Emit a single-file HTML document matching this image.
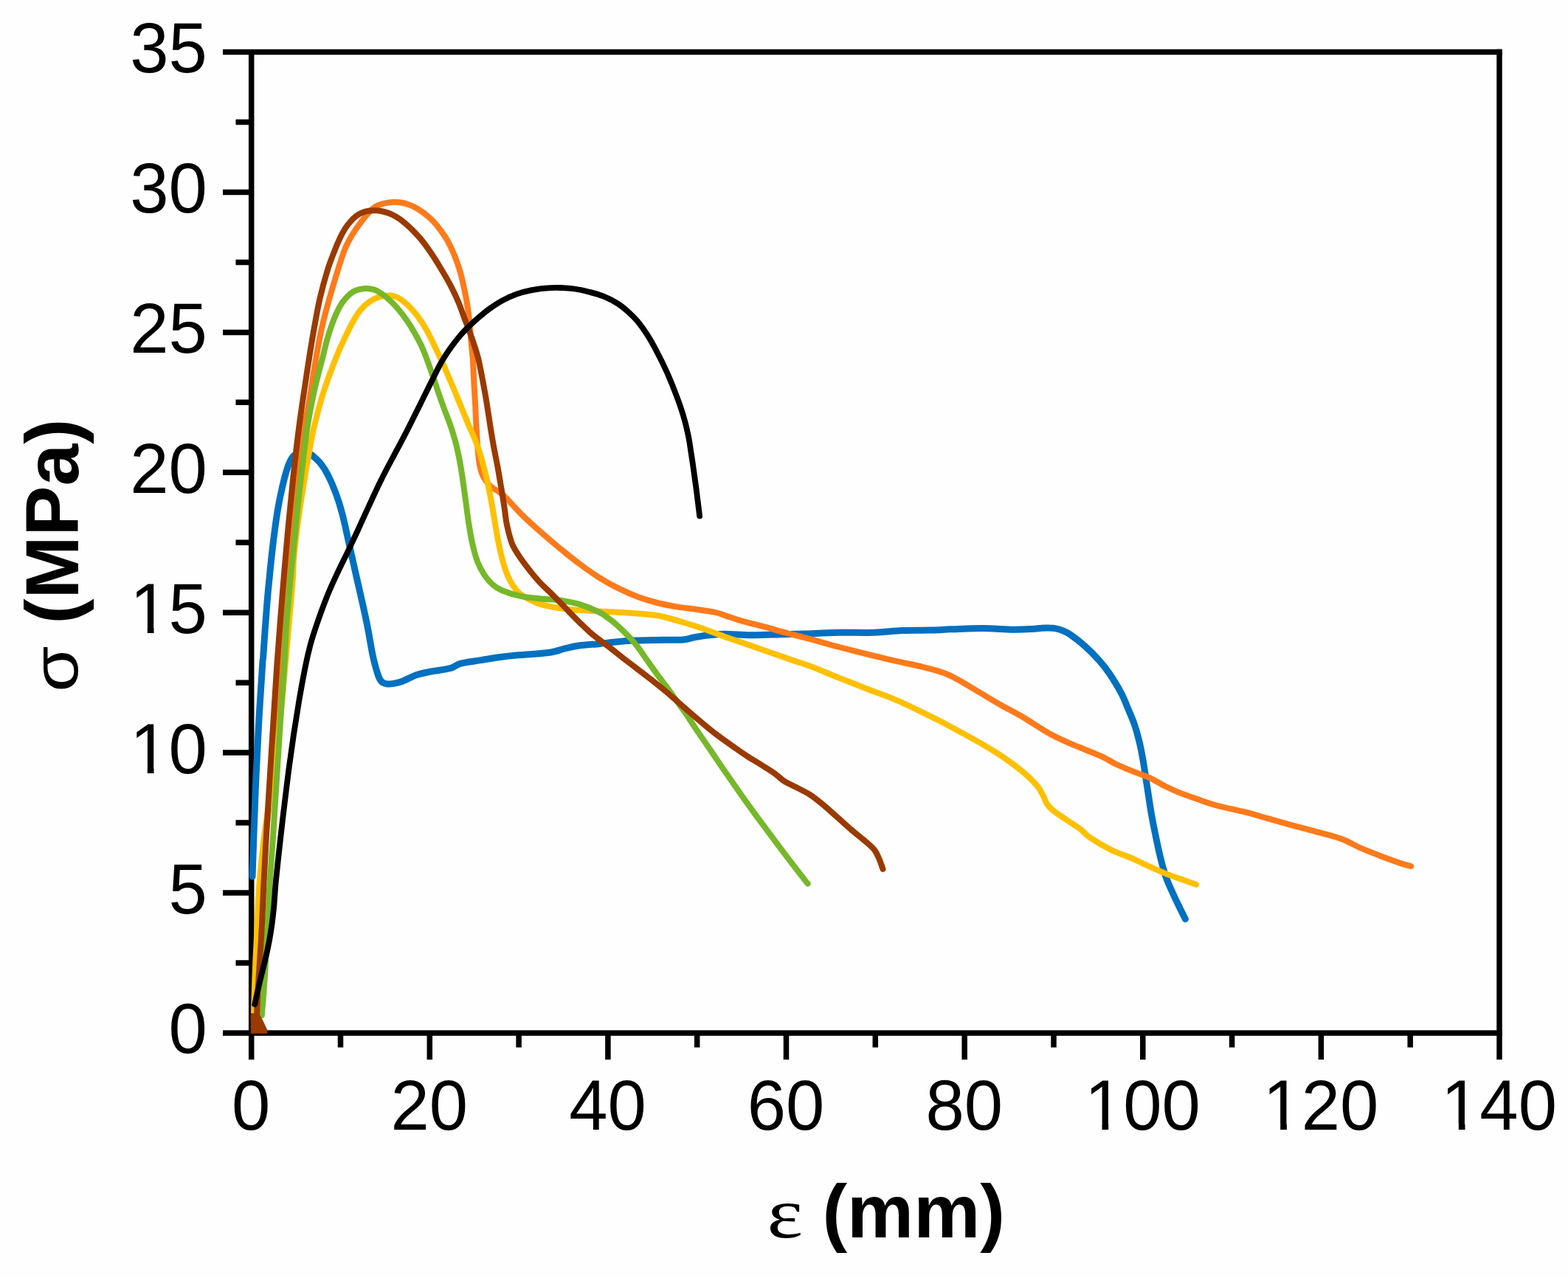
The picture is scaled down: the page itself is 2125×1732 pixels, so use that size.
<!DOCTYPE html>
<html lang="en"><head><meta charset="utf-8"><title>Stress-strain curves</title>
<style>
html,body{margin:0;padding:0;background:#fefefe;}
body{width:2125px;height:1732px;overflow:hidden;}
svg{display:block;}
.tick{font-family:"Liberation Sans",Arial,sans-serif;font-size:94px;fill:#000;}
.lab{font-family:"Liberation Sans",Arial,sans-serif;font-weight:bold;font-size:101px;fill:#000;}
.sym{font-family:"Liberation Serif","DejaVu Serif",serif;font-weight:normal;font-size:100px;fill:#000;}
</style></head>
<body>
<svg xmlns="http://www.w3.org/2000/svg" width="2125" height="1732" viewBox="0 0 2125 1732">
<rect width="2125" height="1732" fill="#fefefe"/>
<g stroke="#000" stroke-width="7.5" fill="none" stroke-linecap="butt">
<path d="M302.0 70.5 H2035.8"/>
<path d="M302.0 1400.0 H2035.8"/>
<path d="M340.7 70.5 V1436.0"/>
<path d="M2032.0 66.8 V1436.0"/>
<path d="M319.5 1305.0H340.7M302.0 1210.1H340.7M319.5 1115.1H340.7M302.0 1020.1H340.7M319.5 925.2H340.7M302.0 830.2H340.7M319.5 735.2H340.7M302.0 640.3H340.7M319.5 545.3H340.7M302.0 450.4H340.7M319.5 355.4H340.7M302.0 260.4H340.7M319.5 165.5H340.7"/>
<path d="M461.5 1400.0V1419.5M582.3 1400.0V1436.0M703.1 1400.0V1419.5M823.9 1400.0V1436.0M944.7 1400.0V1419.5M1065.5 1400.0V1436.0M1186.3 1400.0V1419.5M1307.2 1400.0V1436.0M1428.0 1400.0V1419.5M1548.8 1400.0V1436.0M1669.6 1400.0V1419.5M1790.4 1400.0V1436.0M1911.2 1400.0V1419.5"/>
</g>
<g fill="none" stroke-linecap="round" stroke-linejoin="round">
<path d="M342.0 1188.0C342.4 1178.0 343.3 1150.5 344.1 1127.9C345.0 1105.3 345.9 1077.7 347.0 1052.6C348.2 1027.5 349.4 1002.4 350.8 977.3C352.3 952.2 354.6 916.6 355.6 902.0C356.5 887.5 356.0 898.3 356.7 890.0C357.3 881.7 358.4 864.5 359.3 852.0C360.3 839.5 361.1 827.2 362.1 815.2C363.1 803.2 364.2 791.6 365.4 780.0C366.5 768.5 367.8 756.1 369.0 745.9C370.1 735.7 371.1 727.7 372.3 719.0C373.4 710.4 374.7 701.3 375.9 694.0C377.1 686.7 378.2 680.8 379.3 675.0C380.5 669.2 381.7 664.3 382.8 659.3C384.0 654.3 385.1 649.4 386.3 645.0C387.5 640.7 388.7 636.7 389.8 633.3C391.0 630.0 392.0 627.4 393.2 625.1C394.3 622.7 395.4 620.8 396.7 619.2C398.1 617.6 399.6 616.2 401.2 615.2C402.7 614.3 404.4 613.6 406.1 613.2C407.7 612.8 409.3 612.6 411.0 612.7C412.6 612.7 414.3 613.0 415.9 613.5C417.6 614.0 419.2 614.7 420.9 615.7C422.6 616.7 424.0 617.8 426.0 619.6C428.0 621.3 430.5 623.5 432.8 626.2C435.1 628.9 437.4 631.9 439.8 635.6C442.1 639.4 444.5 643.8 446.8 648.6C449.1 653.4 451.6 659.3 453.6 664.6C455.7 669.8 457.3 674.6 459.1 680.0C460.8 685.5 462.6 692.0 464.1 697.4C465.5 702.8 466.5 707.3 467.7 712.5C468.9 717.7 469.8 722.2 471.2 728.6C472.6 735.0 474.2 741.9 476.2 751.0C478.3 760.1 480.8 771.5 483.4 783.0C486.0 794.5 489.3 808.5 491.8 820.0C494.4 831.5 496.5 841.3 498.6 852.1C500.7 862.8 502.8 876.4 504.4 884.4C505.9 892.5 506.9 895.8 508.1 900.5C509.3 905.1 510.5 909.1 511.6 912.5C512.7 915.9 513.7 918.7 514.9 920.8C516.2 922.9 517.3 924.1 518.9 925.1C520.5 926.2 522.4 926.6 524.5 926.9C526.7 927.1 528.4 927.2 531.8 926.6C535.1 926.0 539.1 925.5 544.7 923.5C550.2 921.5 558.4 916.8 565.0 914.6C571.7 912.3 577.0 911.5 584.6 910.0C592.1 908.6 603.6 907.5 610.3 905.7C616.9 903.9 617.9 901.0 624.5 899.2C631.2 897.4 641.1 896.4 650.4 894.9C659.6 893.4 671.8 891.3 680.0 890.2C688.3 889.0 693.6 888.5 700.0 887.9C706.5 887.4 711.0 887.4 718.8 886.8C726.6 886.1 739.0 885.3 746.9 884.0C754.8 882.7 759.7 880.3 766.0 878.8C772.3 877.3 776.9 876.1 784.8 875.0C792.6 874.0 805.0 873.2 812.9 872.4C820.7 871.6 824.0 870.9 831.8 870.2C839.7 869.5 850.6 868.6 860.0 868.1C869.4 867.7 877.2 867.6 888.2 867.4C899.2 867.2 916.9 867.5 925.7 866.9C934.5 866.3 934.7 864.9 941.0 863.8C947.3 862.7 956.6 861.3 963.5 860.6C970.4 859.8 973.0 859.2 982.4 859.3C991.8 859.3 1007.5 860.6 1020.0 860.7C1032.5 860.8 1044.3 860.1 1057.6 859.7C1070.9 859.4 1086.7 859.1 1100.0 858.7C1113.3 858.2 1123.5 857.4 1137.6 857.2C1151.7 856.9 1170.5 857.8 1184.7 857.3C1198.8 856.9 1209.9 855.0 1222.4 854.5C1235.0 853.9 1249.0 854.4 1260.0 854.1C1271.0 853.9 1276.3 853.3 1288.2 852.8C1300.1 852.4 1317.4 851.5 1331.5 851.5C1345.6 851.6 1361.8 853.1 1372.9 853.2C1384.0 853.4 1391.6 852.8 1398.0 852.4C1404.4 852.1 1407.3 851.4 1411.3 851.2C1415.3 850.9 1418.7 850.8 1422.0 851.0C1425.3 851.1 1428.0 851.3 1431.0 851.9C1434.1 852.5 1437.0 853.4 1440.2 854.7C1443.5 856.0 1445.5 856.5 1450.5 860.0C1455.5 863.5 1463.7 869.7 1470.3 875.6C1476.9 881.5 1484.6 889.3 1490.0 895.4C1495.5 901.5 1498.3 905.2 1503.2 912.4C1508.1 919.7 1515.0 930.7 1519.3 938.9C1523.7 947.1 1526.2 954.4 1529.2 961.6C1532.2 968.7 1534.9 974.6 1537.4 981.7C1539.8 988.7 1541.8 996.0 1543.7 1003.9C1545.7 1011.7 1547.3 1020.5 1548.8 1028.7C1550.3 1037.0 1551.4 1045.2 1552.7 1053.5C1554.0 1061.8 1555.2 1070.0 1556.5 1078.3C1557.8 1086.6 1558.9 1094.9 1560.4 1103.2C1561.8 1111.4 1563.4 1118.9 1565.2 1128.0C1567.1 1137.1 1569.2 1147.9 1571.6 1157.8C1574.0 1167.6 1576.3 1177.8 1579.6 1187.3C1582.9 1196.8 1586.9 1205.1 1591.4 1214.8C1595.8 1224.5 1603.9 1240.4 1606.4 1245.5" stroke="#0070C0" stroke-width="9.0"/>
<path d="M346.8 1392.0C347.2 1380.0 348.2 1343.7 348.9 1320.0C349.7 1296.3 350.6 1270.0 351.3 1250.0C352.0 1230.0 351.0 1225.1 353.1 1200.1C355.2 1175.1 360.3 1133.3 363.7 1100.0C367.2 1066.6 370.9 1033.0 373.8 1000.0C376.6 967.0 379.0 928.7 380.8 902.0C382.6 875.3 383.3 859.4 384.8 839.5C386.3 819.7 388.0 801.8 389.7 783.0C391.4 764.2 393.2 745.1 395.0 726.6C396.8 708.1 398.7 689.4 400.6 672.0C402.4 654.6 404.2 637.3 406.1 622.0C407.9 606.7 409.7 592.0 411.7 580.1C413.7 568.3 415.0 566.9 417.8 550.9C420.7 534.9 425.5 501.8 428.6 484.0C431.6 466.3 433.1 457.8 436.1 444.6C439.0 431.4 442.6 418.2 446.3 405.0C450.0 391.8 454.7 376.3 458.1 365.4C461.4 354.6 464.0 346.5 466.5 339.9C469.0 333.2 470.6 330.4 473.1 325.7C475.6 321.0 478.3 316.4 481.5 311.7C484.6 307.0 489.1 301.3 492.1 297.4C495.1 293.5 497.1 291.0 499.5 288.3C502.0 285.7 504.4 283.2 506.7 281.4C509.1 279.7 511.3 278.8 513.6 277.8C515.9 276.8 517.7 276.3 520.6 275.6C523.6 275.0 527.7 274.1 531.2 273.9C534.7 273.7 538.3 273.9 541.8 274.3C545.3 274.8 548.8 275.5 552.3 276.7C555.8 277.8 559.3 279.4 562.8 281.3C566.3 283.2 569.8 285.4 573.4 288.0C576.9 290.6 581.0 294.1 584.0 296.8C586.9 299.5 588.7 301.4 591.0 304.2C593.4 307.0 595.6 310.0 598.2 313.6C600.7 317.3 603.5 320.8 606.5 326.1C609.4 331.5 612.9 338.8 615.8 345.8C618.6 352.8 621.4 360.6 623.6 368.2C625.8 375.9 627.6 384.6 629.2 391.8C630.8 399.0 631.9 404.9 633.0 411.5C634.1 418.1 634.6 421.4 635.7 431.3C636.7 441.2 638.4 461.3 639.3 470.8C640.2 480.2 640.3 479.3 640.9 488.0C641.4 496.7 642.1 512.4 642.6 522.9C643.2 533.4 643.8 542.4 644.3 551.2C644.7 560.1 644.9 567.2 645.4 576.0C645.9 584.8 646.5 595.4 647.2 604.2C648.0 613.0 648.5 621.8 649.7 628.6C650.9 635.4 652.2 640.3 654.6 645.2C657.0 650.1 660.0 654.2 663.9 658.0C667.8 661.8 674.2 665.0 677.9 667.8C681.7 670.7 681.6 670.4 686.4 675.3C691.2 680.2 699.1 689.5 706.8 697.1C714.5 704.7 724.1 713.4 732.8 721.1C741.5 728.8 750.4 736.3 759.2 743.5C768.0 750.7 776.8 757.9 785.6 764.4C794.4 771.0 803.3 777.3 812.1 782.8C820.8 788.3 829.5 793.0 838.3 797.4C847.0 801.7 855.9 805.7 864.7 809.0C873.5 812.3 882.1 814.8 890.9 817.0C899.7 819.3 908.5 820.9 917.3 822.4C926.0 823.8 934.8 824.6 943.5 825.8C952.1 827.1 962.6 828.5 969.1 829.9C975.6 831.3 977.0 832.3 982.4 834.1C987.8 835.8 995.0 838.6 1001.3 840.4C1007.5 842.3 1013.8 843.8 1020.0 845.4C1026.2 847.0 1032.5 848.5 1038.8 850.2C1045.0 851.9 1051.4 853.9 1057.6 855.7C1063.9 857.4 1069.4 858.7 1076.5 860.5C1083.5 862.3 1089.8 863.9 1100.0 866.6C1110.2 869.4 1125.1 873.7 1137.6 877.0C1150.2 880.3 1162.7 883.5 1175.3 886.6C1187.9 889.7 1200.4 892.9 1213.0 895.7C1225.5 898.6 1239.6 901.1 1250.5 903.8C1261.5 906.5 1270.7 909.0 1278.5 911.8C1286.4 914.6 1289.6 916.5 1297.5 920.8C1305.4 925.0 1316.4 931.8 1325.9 937.4C1335.4 943.0 1344.8 948.8 1354.2 954.2C1363.6 959.5 1374.7 965.3 1382.3 969.6C1389.9 974.0 1392.8 975.9 1399.9 980.3C1407.1 984.7 1416.8 991.3 1425.1 995.8C1433.4 1000.3 1441.5 1003.8 1449.8 1007.4C1458.0 1011.0 1466.7 1014.2 1474.5 1017.5C1482.3 1020.7 1490.3 1023.8 1496.6 1026.8C1502.9 1029.8 1505.4 1032.3 1512.1 1035.5C1518.8 1038.7 1528.9 1042.8 1536.7 1045.9C1544.4 1049.0 1551.5 1051.0 1558.5 1054.3C1565.6 1057.5 1572.3 1062.1 1579.0 1065.5C1585.7 1068.8 1591.4 1071.4 1598.8 1074.4C1606.2 1077.3 1614.9 1080.4 1623.5 1083.3C1632.1 1086.3 1639.6 1089.1 1650.3 1092.0C1661.0 1094.9 1676.4 1097.8 1687.7 1100.7C1699.0 1103.5 1707.9 1106.4 1717.9 1109.2C1728.0 1112.0 1738.0 1114.8 1748.0 1117.6C1758.0 1120.3 1768.1 1123.0 1778.1 1125.7C1788.2 1128.4 1800.7 1131.4 1808.2 1133.7C1815.7 1135.9 1816.8 1136.3 1823.1 1139.0C1829.4 1141.8 1837.3 1146.4 1846.1 1150.2C1854.9 1154.0 1867.3 1158.7 1876.0 1162.0C1884.8 1165.3 1892.6 1168.1 1898.7 1170.1C1904.7 1172.1 1909.9 1173.3 1912.2 1174.0" stroke="#FF7A1A" stroke-width="8.0"/>
<path d="M343.8 1380.0C344.0 1373.3 344.5 1353.0 344.9 1340.0C345.3 1327.0 345.8 1315.3 346.4 1302.0C347.0 1288.7 347.6 1276.5 348.4 1260.0C349.2 1243.5 349.5 1224.7 351.1 1203.0C352.8 1181.4 356.0 1150.6 358.5 1130.1C361.0 1109.6 363.5 1096.7 366.0 1080.0C368.5 1063.3 371.4 1046.6 373.6 1030.0C375.9 1013.3 377.3 1000.0 379.4 980.0C381.4 960.0 383.8 933.4 385.9 910.0C388.0 886.6 390.3 860.7 392.1 839.5C394.0 818.3 396.0 796.6 397.0 783.0C398.0 769.4 397.0 770.7 398.1 758.0C399.2 745.4 401.2 726.1 403.8 707.0C406.4 688.0 411.0 659.7 413.6 643.5C416.2 627.4 417.5 620.6 419.5 610.0C421.4 599.4 422.2 593.0 425.3 580.1C428.4 567.2 433.0 548.6 438.0 532.6C443.1 516.6 450.8 496.6 455.7 484.1C460.5 471.7 463.2 466.5 467.4 457.8C471.5 449.0 477.0 438.1 480.8 431.5C484.6 425.0 486.5 422.4 490.0 418.5C493.5 414.6 497.7 410.9 501.9 408.2C506.0 405.4 510.6 403.4 514.8 402.1C518.9 400.8 523.0 400.3 526.5 400.3C530.0 400.2 532.5 400.9 535.6 402.0C538.6 403.0 541.0 404.0 544.7 406.7C548.4 409.5 553.3 413.7 557.7 418.5C562.1 423.3 567.0 429.7 570.9 435.5C574.9 441.4 578.4 447.9 581.6 453.8C584.7 459.7 587.4 465.7 589.8 470.8C592.3 475.8 594.1 479.4 596.2 484.0C598.4 488.7 600.1 492.4 602.8 498.5C605.5 504.7 609.2 513.5 612.4 521.0C615.5 528.5 618.7 536.1 621.8 543.6C624.9 551.1 628.9 560.8 631.1 566.2C633.3 571.6 632.6 570.2 635.0 575.9C637.5 581.7 642.6 592.5 645.7 600.7C648.8 608.9 651.2 616.5 653.6 625.0C656.0 633.4 658.2 642.3 660.2 651.3C662.2 660.4 664.1 670.1 665.9 679.5C667.6 688.9 669.1 698.4 670.7 707.8C672.3 717.2 673.7 726.6 675.7 735.9C677.6 745.3 680.0 756.0 682.4 764.1C684.8 772.2 687.2 778.7 690.1 784.6C692.9 790.5 696.2 795.6 699.5 799.5C702.7 803.4 704.9 805.2 709.7 808.2C714.5 811.2 722.2 815.1 728.4 817.5C734.7 819.8 739.4 821.0 747.2 822.4C755.0 823.9 764.4 825.2 775.3 826.2C786.3 827.2 800.4 827.8 812.9 828.5C825.4 829.2 838.1 829.6 850.6 830.5C863.1 831.4 878.7 832.6 888.1 833.8C897.5 835.1 900.8 836.4 907.1 838.0C913.4 839.6 919.6 841.6 925.9 843.5C932.2 845.4 938.4 847.3 944.7 849.3C950.9 851.4 957.2 853.6 963.5 855.9C969.8 858.2 976.2 860.9 982.5 863.1C988.8 865.3 994.9 867.2 1001.2 869.4C1007.4 871.5 1013.7 873.7 1020.0 875.9C1026.3 878.1 1032.5 880.3 1038.8 882.5C1045.1 884.7 1051.3 886.9 1057.6 889.1C1063.9 891.3 1069.5 893.2 1076.5 895.6C1083.6 898.0 1089.7 899.6 1099.8 903.5C1110.0 907.4 1125.1 913.8 1137.6 918.9C1150.2 923.9 1162.9 928.9 1175.4 933.8C1187.9 938.6 1200.1 942.5 1212.6 947.9C1225.2 953.2 1238.0 959.5 1250.6 965.7C1263.1 971.8 1275.6 978.1 1288.1 984.7C1300.6 991.3 1314.8 999.1 1325.8 1005.4C1336.8 1011.7 1346.1 1017.3 1353.9 1022.3C1361.8 1027.4 1366.5 1030.8 1372.8 1035.5C1379.0 1040.2 1386.0 1045.6 1391.5 1050.7C1397.1 1055.7 1402.5 1061.1 1406.2 1065.8C1410.0 1070.5 1411.9 1074.8 1414.0 1078.8C1416.1 1082.7 1416.5 1086.1 1418.8 1089.4C1421.1 1092.8 1423.5 1095.4 1427.8 1098.9C1432.1 1102.4 1438.5 1106.4 1444.6 1110.5C1450.6 1114.6 1459.0 1119.8 1464.1 1123.6C1469.2 1127.5 1470.4 1130.1 1475.0 1133.6C1479.7 1137.0 1485.7 1140.6 1491.9 1144.2C1498.1 1147.7 1505.5 1151.7 1512.1 1154.7C1518.6 1157.7 1524.4 1159.0 1531.4 1162.0C1538.4 1165.0 1546.1 1169.0 1554.1 1172.6C1562.0 1176.2 1570.7 1180.2 1578.9 1183.6C1587.2 1186.9 1596.6 1190.1 1603.6 1192.6C1610.6 1195.2 1618.1 1197.8 1621.0 1198.8" stroke="#FFC000" stroke-width="8.0"/>
<path d="M354.8 1376.0C355.2 1371.7 356.2 1359.3 357.0 1350.0C357.7 1340.7 358.5 1329.7 359.1 1320.0C359.7 1310.3 360.0 1301.9 360.5 1292.0C361.0 1282.1 361.4 1276.1 362.2 1260.8C363.0 1245.5 364.1 1222.2 365.4 1200.0C366.8 1177.9 368.8 1152.5 370.4 1127.9C372.0 1103.3 373.6 1077.7 375.2 1052.6C376.8 1027.5 378.4 1002.4 380.0 977.3C381.7 952.2 383.7 924.9 385.2 902.0C386.6 879.0 387.3 859.4 388.7 839.5C390.2 819.7 392.1 801.8 393.9 783.0C395.7 764.2 397.6 745.4 399.5 726.6C401.4 707.8 403.5 687.4 405.3 670.1C407.2 652.8 408.9 638.7 410.8 623.0C412.8 607.3 414.6 591.2 417.0 576.1C419.4 561.0 422.4 546.0 425.3 532.5C428.2 518.9 432.5 502.8 434.5 494.7C436.5 486.6 435.9 490.1 437.4 484.0C439.0 477.8 441.4 466.6 444.0 457.8C446.6 449.1 449.9 439.1 453.0 431.4C456.2 423.8 459.1 417.4 462.6 412.0C466.1 406.5 470.9 401.8 474.1 398.7C477.3 395.7 478.5 395.0 481.9 393.7C485.4 392.4 491.0 391.3 494.9 391.0C498.8 390.7 502.5 391.5 505.3 392.1C508.1 392.7 508.6 392.7 511.8 394.7C515.1 396.7 520.5 400.2 524.9 404.0C529.3 407.7 533.7 412.0 538.1 417.1C542.5 422.1 547.3 428.4 551.2 434.1C555.2 439.8 558.7 445.5 561.9 451.2C565.2 456.9 568.1 462.2 571.0 468.3C573.8 474.5 576.2 480.5 579.0 488.1C581.8 495.6 585.1 505.5 587.9 513.5C590.6 521.5 593.0 528.8 595.5 536.0C598.0 543.2 600.5 550.1 603.0 556.8C605.5 563.5 607.8 568.8 610.2 576.1C612.7 583.4 615.5 592.1 617.7 600.6C619.9 609.0 621.8 618.4 623.4 626.8C625.0 635.3 626.0 642.5 627.3 651.3C628.6 660.1 629.9 670.1 631.2 679.5C632.5 688.9 633.6 698.4 635.0 707.8C636.5 717.2 638.0 727.2 640.0 735.9C642.0 744.7 644.1 753.1 646.8 760.3C649.5 767.4 652.8 773.6 656.2 778.9C659.6 784.2 663.3 788.4 667.4 792.0C671.4 795.5 673.8 797.6 680.4 800.3C686.9 803.0 697.8 806.4 706.6 808.2C715.3 810.1 724.0 810.5 732.7 811.4C741.5 812.3 750.3 812.2 759.0 813.5C767.8 814.7 776.4 816.3 785.2 818.9C793.9 821.6 804.9 826.2 811.5 829.4C818.1 832.6 820.4 834.9 824.8 838.1C829.2 841.3 833.5 844.8 837.9 848.7C842.3 852.7 846.8 857.2 851.2 861.8C855.6 866.4 859.7 870.8 864.1 876.5C868.5 882.2 873.2 889.6 877.7 895.9C882.2 902.2 886.5 908.4 890.9 914.3C895.3 920.3 899.5 925.6 903.9 931.6C908.3 937.5 912.8 943.8 917.2 950.0C921.6 956.1 925.9 962.1 930.3 968.5C934.7 974.9 939.2 982.0 943.6 988.4C947.9 994.9 949.8 997.5 956.3 1007.0C962.9 1016.6 973.9 1033.0 982.8 1045.9C991.6 1058.7 1000.5 1071.7 1009.3 1084.0C1018.0 1096.3 1026.6 1107.8 1035.4 1119.7C1044.2 1131.6 1053.1 1143.6 1061.9 1155.2C1070.7 1166.9 1082.7 1182.4 1088.2 1189.4C1093.6 1196.5 1093.6 1196.1 1094.7 1197.4" stroke="#76B82A" stroke-width="8.0"/>
<path d="M348.0 1376.0C348.3 1370.7 348.8 1356.3 349.5 1344.0C350.2 1331.7 351.2 1316.3 352.0 1302.4C352.9 1288.5 353.7 1277.9 354.6 1260.8C355.5 1243.7 356.2 1222.2 357.3 1200.0C358.4 1177.9 359.8 1152.5 361.2 1127.9C362.6 1103.3 364.2 1077.7 365.8 1052.6C367.4 1027.5 368.9 1002.4 370.5 977.3C372.1 952.2 373.8 925.0 375.3 902.0C376.9 879.0 378.4 859.3 380.0 839.5C381.5 819.7 383.0 801.8 384.6 783.0C386.2 764.2 387.9 743.5 389.5 726.6C391.0 709.7 392.4 697.1 393.9 681.4C395.5 665.7 396.9 650.1 398.9 632.5C400.8 615.0 403.0 595.9 405.6 576.0C408.2 556.2 412.4 528.8 414.7 513.5C417.0 498.2 417.3 495.5 419.2 484.0C421.0 472.5 423.4 457.7 425.8 444.5C428.2 431.3 430.4 418.2 433.4 405.0C436.4 391.9 440.7 376.4 444.0 365.6C447.4 354.7 450.7 346.9 453.5 339.7C456.3 332.5 458.5 327.3 460.9 322.2C463.3 317.2 465.5 313.2 467.8 309.6C470.2 305.9 472.5 303.0 474.9 300.3C477.2 297.6 479.5 295.3 482.0 293.3C484.5 291.4 486.8 289.8 489.7 288.6C492.6 287.3 496.1 286.3 499.5 285.8C502.8 285.2 506.5 285.1 510.0 285.3C513.5 285.5 517.0 286.2 520.5 287.0C524.1 287.9 527.5 289.0 531.0 290.6C534.6 292.3 538.6 294.7 541.6 296.8C544.7 298.9 546.7 300.7 549.5 303.0C552.2 305.4 554.4 307.2 558.0 310.8C561.6 314.5 566.6 319.5 571.0 324.9C575.4 330.3 579.9 336.6 584.3 343.1C588.8 349.7 593.2 356.9 597.6 364.2C602.0 371.4 606.6 379.2 610.5 386.7C614.4 394.1 617.9 401.6 621.1 409.0C624.2 416.5 626.8 424.2 629.4 431.3C632.1 438.3 634.7 444.6 637.0 451.2C639.4 457.8 641.8 464.7 643.7 470.8C645.7 477.0 647.0 481.0 648.7 488.1C650.3 495.2 652.0 504.2 653.8 513.5C655.5 522.8 657.5 533.2 659.2 543.6C660.9 554.0 662.6 565.9 664.2 576.0C665.8 586.1 667.2 594.8 668.9 604.2C670.6 613.6 672.6 623.1 674.4 632.5C676.1 641.9 677.6 651.3 679.2 660.7C680.8 670.1 682.4 680.4 683.7 688.9C685.0 697.5 685.3 703.8 687.1 711.9C688.9 720.1 691.1 730.2 694.4 737.9C697.6 745.5 702.4 751.8 706.6 758.0C710.8 764.2 715.2 769.7 719.6 775.2C724.0 780.7 728.6 786.2 733.0 790.8C737.4 795.5 741.4 798.8 745.8 803.1C750.1 807.4 754.7 812.0 759.1 816.5C763.5 821.0 767.8 825.6 772.2 830.1C776.6 834.6 781.0 839.1 785.4 843.5C789.9 847.8 794.4 852.3 798.8 856.2C803.2 860.1 807.5 863.4 811.9 866.7C816.2 870.1 818.2 871.3 824.8 876.3C831.4 881.4 842.6 890.4 851.4 897.2C860.2 904.0 868.8 910.3 877.5 917.1C886.2 924.0 895.0 930.9 903.8 938.3C912.6 945.8 921.1 953.6 930.5 961.7C939.9 969.8 952.6 980.6 960.1 986.8C967.6 993.0 969.7 994.5 975.4 998.8C981.1 1003.0 987.8 1007.7 994.1 1012.1C1000.4 1016.5 1006.8 1021.0 1013.0 1025.1C1019.3 1029.2 1025.6 1032.7 1031.8 1036.6C1038.0 1040.5 1045.1 1044.8 1050.2 1048.4C1055.3 1052.1 1057.7 1055.4 1062.4 1058.4C1067.2 1061.5 1072.9 1063.8 1078.7 1066.8C1084.5 1069.9 1090.9 1072.6 1097.2 1076.7C1103.5 1080.8 1110.0 1086.1 1116.4 1091.4C1122.7 1096.6 1129.0 1102.5 1135.3 1108.1C1141.6 1113.7 1148.0 1119.6 1154.2 1124.9C1160.5 1130.3 1167.7 1135.7 1172.8 1140.2C1178.0 1144.7 1182.1 1148.0 1185.2 1152.0C1188.4 1156.1 1189.8 1160.4 1191.7 1164.7C1193.5 1168.9 1195.7 1175.6 1196.5 1177.8" stroke="#9A3A00" stroke-width="8.0"/>
<path d="M345.3 1361.0C346.3 1356.4 349.5 1341.7 351.3 1333.6C353.2 1325.6 354.7 1319.7 356.4 1312.8C358.1 1305.9 359.9 1298.9 361.4 1292.0C363.0 1285.0 364.3 1278.1 365.6 1271.2C366.8 1264.2 367.8 1257.6 368.8 1250.4C369.7 1243.2 370.4 1237.2 371.3 1228.0C372.1 1218.8 372.4 1210.1 373.8 1195.0C375.3 1179.9 378.0 1154.8 380.0 1137.3C381.9 1119.8 383.6 1105.9 385.5 1090.2C387.4 1074.5 389.3 1058.9 391.3 1043.2C393.4 1027.5 395.6 1011.8 397.9 996.1C400.3 980.4 402.8 964.7 405.4 949.0C408.1 933.3 411.5 914.6 414.1 902.1C416.6 889.5 418.4 882.2 420.7 873.5C423.0 864.8 424.1 861.1 428.0 850.0C431.8 838.8 438.9 819.1 443.8 806.8C448.7 794.5 452.9 785.8 457.5 776.1C462.0 766.4 466.4 758.0 471.0 748.4C475.5 738.8 480.3 728.6 485.0 718.5C489.6 708.4 493.7 699.3 498.9 688.0C504.1 676.7 510.2 663.1 516.4 650.7C522.5 638.3 530.4 623.9 535.8 613.6C541.2 603.3 543.2 600.1 548.8 589.1C554.5 578.1 563.7 559.4 569.7 547.4C575.7 535.4 579.9 526.7 584.7 517.3C589.4 507.8 593.8 498.5 598.2 490.8C602.6 483.1 606.6 477.3 611.0 471.1C615.3 465.0 619.9 459.0 624.3 454.0C628.7 448.9 632.9 444.8 637.3 440.6C641.7 436.4 646.1 432.5 650.5 428.8C654.9 425.1 658.7 421.8 663.7 418.3C668.6 414.8 674.2 410.9 680.2 407.6C686.3 404.4 693.4 401.1 700.0 398.7C706.5 396.3 713.0 394.7 719.6 393.4C726.1 392.0 732.7 391.2 739.3 390.6C745.9 390.0 752.5 389.8 759.1 390.0C765.7 390.1 772.1 390.5 778.7 391.5C785.3 392.4 792.0 394.0 798.6 395.7C805.1 397.4 811.6 399.0 818.1 401.7C824.7 404.4 832.3 408.5 837.8 411.9C843.3 415.4 846.7 418.4 851.1 422.3C855.5 426.2 859.7 430.3 864.1 435.5C868.5 440.8 872.9 446.9 877.3 453.9C881.8 460.9 886.3 469.1 890.6 477.5C895.0 485.8 899.2 494.1 903.6 504.0C908.0 513.8 913.3 526.9 917.0 536.8C920.7 546.6 923.4 554.4 926.0 563.2C928.7 572.0 930.9 581.3 932.6 589.5C934.4 597.7 935.1 604.2 936.4 612.4C937.7 620.6 939.0 629.3 940.3 638.7C941.6 648.1 943.1 658.9 944.4 669.0C945.7 679.1 947.5 694.3 948.1 699.3" stroke="#000000" stroke-width="7.8"/>
</g>
<path d="M339.8 1400.8 L362.3 1400.8 L362.2 1395.5 L357 1384.5 L351.5 1374 L339.8 1373 Z" fill="#9A3A00"/>
<g class="tick" text-anchor="end">
<text transform="translate(280.7 1427.4) scale(1.000 1.030)">0</text>
<text transform="translate(280.7 1237.5) scale(1.000 1.030)">5</text>
<text transform="translate(280.7 1047.5) scale(1.000 1.030)">10</text>
<text transform="translate(280.7 857.6) scale(1.000 1.030)">15</text>
<text transform="translate(280.7 667.7) scale(1.000 1.030)">20</text>
<text transform="translate(280.7 477.8) scale(1.000 1.030)">25</text>
<text transform="translate(280.7 287.8) scale(1.000 1.030)">30</text>
<text transform="translate(280.7 97.9) scale(1.000 1.030)">35</text>
</g>
<g class="tick" text-anchor="middle">
<text transform="translate(340.2 1531.0) scale(1.000 1.030)">0</text>
<text transform="translate(581.8 1531.0) scale(1.000 1.030)">20</text>
<text transform="translate(823.4 1531.0) scale(1.000 1.030)">40</text>
<text transform="translate(1065.0 1531.0) scale(1.000 1.030)">60</text>
<text transform="translate(1306.7 1531.0) scale(1.000 1.030)">80</text>
<text transform="translate(1548.3 1531.0) scale(1.000 1.030)">100</text>
<text transform="translate(1789.9 1531.0) scale(1.000 1.030)">120</text>
<text transform="translate(2031.5 1531.0) scale(1.000 1.030)">140</text>
</g>
<rect x="181.6" y="1039.1" width="18.2" height="9.6" fill="#fefefe"/>
<rect x="208.5" y="1039.1" width="16.5" height="9.6" fill="#fefefe"/>
<rect x="181.6" y="849.2" width="18.2" height="9.6" fill="#fefefe"/>
<rect x="208.5" y="849.2" width="16.5" height="9.6" fill="#fefefe"/>
<rect x="1475.3" y="1522.6" width="18.2" height="9.6" fill="#fefefe"/>
<rect x="1502.2" y="1522.6" width="16.5" height="9.6" fill="#fefefe"/>
<rect x="1717.0" y="1522.6" width="18.2" height="9.6" fill="#fefefe"/>
<rect x="1743.9" y="1522.6" width="16.5" height="9.6" fill="#fefefe"/>
<rect x="1958.6" y="1522.6" width="18.2" height="9.6" fill="#fefefe"/>
<rect x="1985.5" y="1522.6" width="16.5" height="9.6" fill="#fefefe"/>
<text class="sym" transform="translate(1039.6 1677) scale(1.157 0.98)">ε</text>
<text class="lab" style="font-size:101.3px" x="1114.4" y="1677">(mm)</text>
<text class="lab" style="font-weight:normal;font-size:88px" transform="translate(104.8 937.8) rotate(-90) scale(1.147 0.983)">σ</text>
<text class="lab" style="font-size:102.1px" transform="translate(105.7 845.6) rotate(-90)">(MPa)</text>
</svg>
</body></html>
